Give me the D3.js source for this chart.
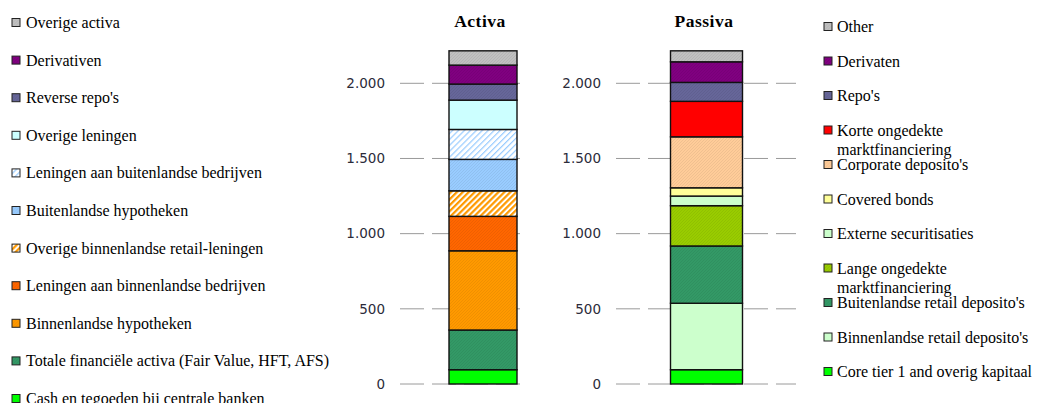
<!DOCTYPE html>
<html>
<head>
<meta charset="utf-8">
<script src="https://cdn.jsdelivr.net/npm/d3@7"></script>
<style>
  html, body { margin: 0; padding: 0; background: #fff; }
  svg { display: block; }
</style>
</head>
<body>
<svg id="chart" width="1039" height="403"></svg>
<script>
// Balance sheet composition (bottom of the stack first)
const activaLabels = [
  "Cash en tegoeden bij centrale banken",
  "Totale financiële activa (Fair Value, HFT, AFS)",
  "Binnenlandse hypotheken",
  "Leningen aan binnenlandse bedrijven",
  "Overige binnenlandse retail-leningen",
  "Buitenlandse hypotheken",
  "Leningen aan buitenlandse bedrijven",
  "Overige leningen",
  "Reverse repo's",
  "Derivativen",
  "Overige activa"
];
const activaValues = [95, 264, 527, 229, 170, 209, 199, 195, 107, 126, 95];

const passivaLabels = [
  "Core tier 1 and overig kapitaal",
  "Binnenlandse retail deposito's",
  "Buitenlandse retail deposito's",
  "Lange ongedekte marktfinanciering",
  "Externe securitisaties",
  "Covered bonds",
  "Corporate deposito's",
  "Korte ongedekte marktfinanciering",
  "Repo's",
  "Derivaten",
  "Other"
];
const passivaValues = [95, 442, 381, 268, 64, 55, 339, 236, 126, 137, 73];

// Legend text, split over lines where it wraps
const passivaLegendLines = {
  "Korte ongedekte marktfinanciering": ["Korte ongedekte", "marktfinanciering"],
  "Lange ongedekte marktfinanciering": ["Lange ongedekte", "marktfinanciering"]
};

const tickValues = [0, 500, 1000, 1500, 2000];

// Fill styles per segment
const activaStyle = [
  { fill: "#00ff00" },
  { fill: "#339966", grain: true },
  { fill: "#ff9900", grain: true },
  { fill: "#ff6600", grain: true },
  { fill: "url(#hatchOrange)" },
  { fill: "#99ccff", grain: true },
  { fill: "url(#hatchBlue)" },
  { fill: "#ccffff" },
  { fill: "#666699", grain: true },
  { fill: "#800080", grain: true },
  { fill: "#c0c0c0", grain: true }
];
const passivaStyle = [
  { fill: "#00ff00" },
  { fill: "#ccffcc" },
  { fill: "#339966", grain: true },
  { fill: "#99cc00", grain: true },
  { fill: "#ccffcc" },
  { fill: "#ffff99" },
  { fill: "#ffcc99", grain: true },
  { fill: "#ff0000" },
  { fill: "#666699", grain: true },
  { fill: "#800080", grain: true },
  { fill: "#c0c0c0", grain: true }
];

const svg = d3.select("#chart");
const defs = svg.append("defs");

// Diagonal hatch patterns
function hatch(id, color, width, gap) {
  const p = defs.append("pattern")
    .attr("id", id).attr("patternUnits", "userSpaceOnUse")
    .attr("width", gap).attr("height", gap)
    .attr("patternTransform", "rotate(45)");
  p.append("rect").attr("width", gap).attr("height", gap).attr("fill", "#fff");
  p.append("rect").attr("x", 0).attr("y", 0).attr("width", width).attr("height", gap).attr("fill", color);
}
hatch("hatchOrange", "#ff9900", 2.2, 4.2);
hatch("hatchBlue", "#99ccff", 1.2, 4.2);

// Fine grain texture laid over some fills
const grain = defs.append("pattern")
  .attr("id", "grain").attr("patternUnits", "userSpaceOnUse")
  .attr("width", 3).attr("height", 3);
[[0, 0], [2, 1], [1, 2]].forEach(([gx, gy]) => {
  grain.append("rect").attr("x", gx).attr("y", gy).attr("width", 1).attr("height", 1)
    .attr("fill", "#000").attr("opacity", 0.06);
});

// Dutch number format: 2.000
const nl = d3.formatLocale({ decimal: ",", thousands: ".", grouping: [3], currency: ["€ ", ""] });
const fmt = nl.format(",d");

const y = d3.scaleLinear().domain([0, 2000]).range([384, 83.3]);

function panel(opts) {
  const g = svg.append("g");
  // Dashed gridlines behind the bar
  g.selectAll("line.grid").data(tickValues).join("line")
    .attr("class", "grid")
    .attr("x1", opts.gridX0).attr("x2", opts.gridX1)
    .attr("y1", d => y(d)).attr("y2", d => y(d))
    .attr("stroke", "#9a9a9a").attr("stroke-width", 1)
    .attr("stroke-dasharray", "24,8");

  // Tick labels
  const axis = d3.axisLeft(y).tickValues(tickValues).tickFormat(fmt).tickSize(0).tickPadding(0);
  const ag = g.append("g").attr("transform", `translate(${opts.labelX},0)`).call(axis);
  ag.select(".domain").remove();
  ag.selectAll("text")
    .attr("font-family", "DejaVu Sans, sans-serif")
    .attr("font-size", 13.5).attr("fill", "#2b2b3a");

  // Stacked segments
  const x = d3.scaleBand().domain([opts.title]).range(opts.barRange).padding(0);
  const ends = d3.cumsum(opts.values);
  const segs = opts.values.map((v, i) => ({ y0: ends[i] - v, y1: ends[i], style: opts.style[i] }));
  const bars = g.selectAll("g.seg").data(segs).join("g").attr("class", "seg");
  bars.append("rect")
    .attr("x", x(opts.title)).attr("width", x.bandwidth())
    .attr("y", d => y(d.y1)).attr("height", d => y(d.y0) - y(d.y1))
    .attr("fill", d => d.style.fill);
  bars.filter(d => d.style.grain).append("rect")
    .attr("x", x(opts.title)).attr("width", x.bandwidth())
    .attr("y", d => y(d.y1)).attr("height", d => y(d.y0) - y(d.y1))
    .attr("fill", "url(#grain)");
  bars.append("rect")
    .attr("x", x(opts.title)).attr("width", x.bandwidth())
    .attr("y", d => y(d.y1)).attr("height", d => y(d.y0) - y(d.y1))
    .attr("fill", "none").attr("stroke", "#111").attr("stroke-width", 1.4);

  // Title
  g.append("text")
    .attr("x", opts.titleX).attr("y", 27)
    .attr("text-anchor", "middle")
    .attr("font-family", "Liberation Serif, serif")
    .attr("font-weight", "bold").attr("font-size", 17.5)
    .attr("letter-spacing", 0.5)
    .text(opts.title);
}

panel({
  title: "Activa", values: activaValues, style: activaStyle,
  barRange: [449, 517], gridX0: 400, gridX1: 522, labelX: 385, titleX: 480
});
panel({
  title: "Passiva", values: passivaValues, style: passivaStyle,
  barRange: [670.5, 742.5], gridX0: 616, gridX1: 796, labelX: 601, titleX: 704
});

// Legends: listed from the top of the stack downwards
function legend(opts) {
  const items = opts.labels.map((l, i) => ({ label: l, style: opts.style[i] })).reverse();
  const g = svg.append("g");
  const row = g.selectAll("g.item").data(items).join("g")
    .attr("class", "item")
    .attr("transform", (d, i) => `translate(${opts.x},${opts.y0 + i * opts.step})`);
  row.append("rect")
    .attr("x", 0).attr("y", -4).attr("width", 8).attr("height", 8)
    .attr("fill", d => d.style.fill);
  row.filter(d => d.style.grain).append("rect")
    .attr("x", 0).attr("y", -4).attr("width", 8).attr("height", 8)
    .attr("fill", "url(#grain)");
  row.append("rect")
    .attr("x", 0).attr("y", -4).attr("width", 8).attr("height", 8)
    .attr("fill", "none").attr("stroke", "#222").attr("stroke-width", 1);
  const t = row.append("text")
    .attr("x", opts.textDx).attr("y", 5.5)
    .attr("font-family", "Liberation Serif, serif")
    .attr("font-size", 16).attr("fill", "#000");
  t.selectAll("tspan")
    .data(d => (opts.lines && opts.lines[d.label]) || [d.label])
    .join("tspan")
    .attr("x", opts.textDx)
    .attr("dy", (d, i) => i === 0 ? 0 : 19)
    .text(d => d);
}

legend({ labels: activaLabels, style: activaStyle, x: 12, y0: 22.5, step: 37.6, textDx: 14 });
legend({ labels: passivaLabels, style: passivaStyle, x: 824, y0: 26.5, step: 34.5, textDx: 13, lines: passivaLegendLines });
</script>
</body>
</html>
